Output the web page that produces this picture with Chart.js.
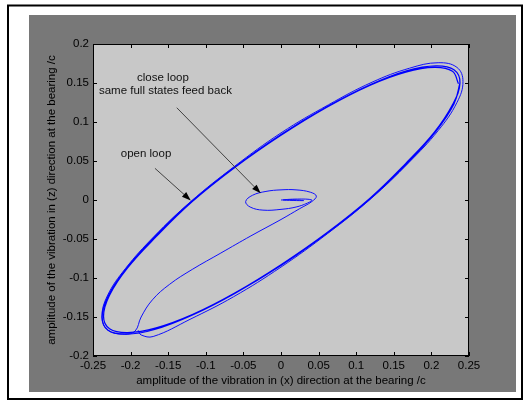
<!DOCTYPE html>
<html><head><meta charset="utf-8">
<script src="https://cdn.jsdelivr.net/npm/chart.js@4"></script>
<style>html,body{margin:0;padding:0;background:#fff;}canvas{display:block;}</style>
</head><body>
<canvas id="c" width="526" height="401"></canvas>
<script>
// ---- data ----
const openLoopX = [0.236,0.228,0.204,0.166,0.118,0.061,0.000,-0.061,-0.118,-0.166,-0.204,-0.228,-0.236,-0.228,-0.204,-0.166,-0.118,-0.061,0.000,0.061,0.118,0.166,0.204,0.228,
                   0.238,0.230,0.206,0.168,0.119,0.062,0.000,-0.062,-0.119,-0.168,-0.206,-0.230,-0.238,-0.230,-0.206,-0.168,-0.119,-0.062,0.000,0.062,0.119,0.168,0.206,0.230,0.238];
const openLoopY = [0.149,0.165,0.170,0.164,0.147,0.119,0.083,0.042,-0.002,-0.047,-0.087,-0.122,-0.149,-0.165,-0.170,-0.164,-0.147,-0.119,-0.083,-0.042,0.002,0.047,0.087,0.122,
                   0.150,0.167,0.172,0.166,0.148,0.120,0.084,0.042,-0.002,-0.047,-0.088,-0.123,-0.150,-0.167,-0.172,-0.166,-0.148,-0.120,-0.084,-0.042,0.002,0.047,0.088,0.123,0.150];
const closeLoopX = [-0.190,-0.186,-0.170,-0.121,-0.063,0.000,0.062,0.120,0.170,0.209,0.234,0.242,0.234,0.209,0.171,0.121,0.063,0.000,-0.062,-0.120,-0.169,-0.207,-0.231,-0.238,-0.230,-0.208,-0.194,
                    -0.186,-0.171,-0.148,-0.118,-0.080,-0.040,0.000,0.025,0.041,0.047,0.039,0.020,0.000,-0.020,-0.038,-0.047,-0.041,-0.024,0.000,0.020,0.035,0.041,0.022,0.003,0.030,0.015,0.000];
const closeLoopY = [-0.167,-0.173,-0.175,-0.153,-0.124,-0.086,-0.043,0.002,0.048,0.089,0.125,0.152,0.170,0.176,0.169,0.151,0.122,0.086,0.043,-0.002,-0.047,-0.088,-0.123,-0.150,-0.167,-0.172,-0.168,
                    -0.150,-0.128,-0.108,-0.089,-0.068,-0.046,-0.025,-0.011,-0.002,0.005,0.010,0.013,0.013,0.011,0.006,-0.002,-0.009,-0.013,-0.012,-0.009,-0.004,0.000,0.0012,0.000,-0.0008,0.0004,0.000];
const xTicks = [-0.25,-0.2,-0.15,-0.1,-0.05,0,0.05,0.1,0.15,0.2,0.25];
const xTickLabels = ['-0.25','-0.2','-0.15','-0.1','-0.05','0','0.05','0.1','0.15','0.2','0.25'];
const yTicks = [-0.2,-0.15,-0.1,-0.05,0,0.05,0.1,0.15,0.2];
const yTickLabels = ['-0.2','-0.15','-0.1','-0.05','0','0.05','0.1','0.15','0.2'];
const xTitle = 'amplitude of the vibration in (x) direction at the bearing /c';
const yTitle = 'amplitude of the vibration in (z) direction at the bearing /c';
const noteTexts = ['close loop','same full states feed back','open loop'];
const noteX = [-0.157,-0.1537,-0.1795];
const noteY = [0.1568,0.1397,0.0594];
const arrowFromX = [-0.1386,-0.1676];
const arrowFromY = [0.1183,0.0406];
const arrowToX = [-0.027,-0.120];
const arrowToY = [0.0086,-0.0006];

const FONT = "'Liberation Sans', Arial, Helvetica, sans-serif";
const FS = 11.5;
const pts = (xs, ys) => xs.map((x, i) => ({x: x, y: ys[i]}));

const decor = {
  id: 'decor',
  beforeDraw(chart) {
    const ctx = chart.ctx, a = chart.chartArea;
    ctx.save();
    ctx.fillStyle = '#ffffff';
    ctx.fillRect(0, 0, chart.width, chart.height);
    ctx.strokeStyle = '#000';
    ctx.lineWidth = 2;
    ctx.strokeRect(8, 5.5, 514, 393.5);
    ctx.fillStyle = '#787878';
    ctx.fillRect(29, 15, 487, 377);
    ctx.fillStyle = '#c8c8c8';
    ctx.fillRect(a.left, a.top, a.right - a.left, a.bottom - a.top);
    ctx.restore();
  },
  afterDatasetsDraw(chart) {
    const ctx = chart.ctx, a = chart.chartArea;
    const xs = chart.scales.x, ys = chart.scales.y;
    ctx.save();
    ctx.strokeStyle = '#000';
    ctx.lineWidth = 1;
    ctx.strokeRect(a.left + 0.5, a.top + 0.5, a.right - a.left - 1, a.bottom - a.top - 1);
    const tl = 4;
    ctx.beginPath();
    xTicks.forEach(v => {
      const px = Math.round(xs.getPixelForValue(v)) + 0.5;
      ctx.moveTo(px, a.bottom); ctx.lineTo(px, a.bottom - tl);
      ctx.moveTo(px, a.top); ctx.lineTo(px, a.top + tl);
    });
    yTicks.forEach(v => {
      const py = Math.round(ys.getPixelForValue(v)) + 0.5;
      ctx.moveTo(a.left, py); ctx.lineTo(a.left + tl, py);
      ctx.moveTo(a.right, py); ctx.lineTo(a.right - tl, py);
    });
    ctx.stroke();
    for (let i = 0; i < arrowFromX.length; i++) {
      const x0 = xs.getPixelForValue(arrowFromX[i]), y0 = ys.getPixelForValue(arrowFromY[i]);
      const x1 = xs.getPixelForValue(arrowToX[i]), y1 = ys.getPixelForValue(arrowToY[i]);
      const ang = Math.atan2(y1 - y0, x1 - x0);
      const hl = 9, hw = 3.2;
      const bx = x1 - hl * Math.cos(ang), by = y1 - hl * Math.sin(ang);
      ctx.strokeStyle = '#333';
      ctx.lineWidth = 0.9;
      ctx.beginPath(); ctx.moveTo(x0, y0); ctx.lineTo(bx, by); ctx.stroke();
      ctx.fillStyle = '#000';
      ctx.beginPath();
      ctx.moveTo(x1, y1);
      ctx.lineTo(bx + hw * Math.sin(ang), by - hw * Math.cos(ang));
      ctx.lineTo(bx - hw * Math.sin(ang), by + hw * Math.cos(ang));
      ctx.closePath(); ctx.fill();
    }
    ctx.fillStyle = '#111';
    ctx.font = FS + 'px ' + FONT;
    ctx.textAlign = 'center';
    ctx.textBaseline = 'middle';
    noteTexts.forEach((t, i) => ctx.fillText(t, xs.getPixelForValue(noteX[i]), ys.getPixelForValue(noteY[i])));
    ctx.restore();
  }
};

new Chart(document.getElementById('c'), {
  type: 'scatter',
  data: {
    datasets: [
      {label: 'open loop', data: pts(openLoopX, openLoopY), showLine: true, borderColor: '#0000ff', borderWidth: 1.25, pointRadius: 0, tension: 0.4, fill: false},
      {label: 'close loop', data: pts(closeLoopX, closeLoopY), showLine: true, borderColor: '#1010ff', borderWidth: 1.0, pointRadius: 0, tension: 0.4, fill: false}
    ]
  },
  options: {
    responsive: false,
    animation: false,
    events: [],
    layout: {padding: {left: 0, top: 44, right: 57, bottom: 0}},
    plugins: {legend: {display: false}, tooltip: {enabled: false}},
    scales: {
      x: {
        type: 'linear', min: -0.25, max: 0.25,
        afterBuildTicks: s => { s.ticks = xTicks.map(v => ({value: v})); },
        afterFit: s => { s.height = 45; },
        ticks: {callback: (v, i) => xTickLabels[i], padding: 3, maxRotation: 0, autoSkip: false, color: '#000', font: {family: FONT, size: FS}},
        grid: {display: false, drawTicks: false, tickLength: 0}, border: {display: false},
        title: {display: true, text: xTitle, color: '#000', font: {family: FONT, size: FS}, padding: {top: 0, bottom: 13}}
      },
      y: {
        type: 'linear', min: -0.2, max: 0.2,
        afterBuildTicks: s => { s.ticks = yTicks.map(v => ({value: v})); },
        afterFit: s => { s.width = 93; },
        ticks: {callback: (v, i) => yTickLabels[i], padding: 4, autoSkip: false, color: '#000', font: {family: FONT, size: FS}},
        grid: {display: false, drawTicks: false, tickLength: 0}, border: {display: false},
        title: {display: true, text: yTitle, color: '#000', font: {family: FONT, size: FS}, padding: {top: 45, bottom: 0}}
      }
    }
  },
  plugins: [decor]
});
</script>
</body></html>
